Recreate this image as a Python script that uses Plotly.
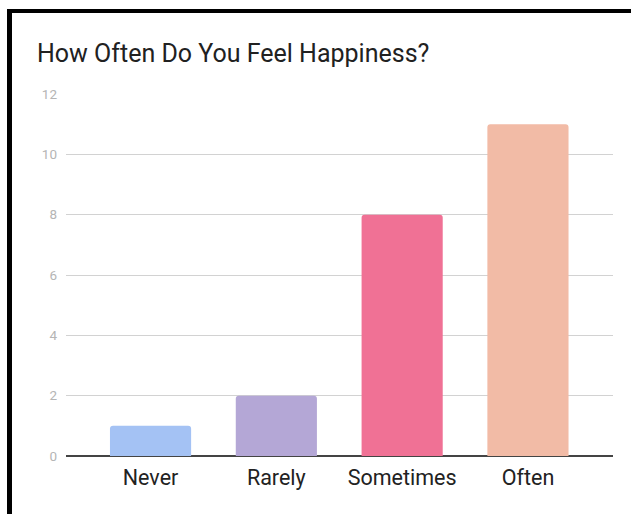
import plotly.graph_objects as go

# Survey answers and their counts
categories = ["Never", "Rarely", "Sometimes", "Often"]
counts = [1, 2, 8, 11]
bar_colors = ["#a4c2f4", "#b4a7d6", "#f07195", "#f2bba6"]
y_ticks = [0, 2, 4, 6, 8, 10, 12]

W, H = 631, 514
L, R, T, B = 66, 18, 94, 58
plot_w = W - L - R
plot_h = H - T - B


def px_x(px):
    return (px - L) / plot_w


def px_y(py):
    return (H - B - py) / plot_h


fig = go.Figure(
    go.Bar(
        x=list(range(len(categories))),
        y=counts,
        marker=dict(color=bar_colors, line=dict(width=0), cornerradius=3),
        width=0.645,
        customdata=categories,
        hovertemplate="%{customdata}: %{y}<extra></extra>",
    )
)

# Black frame along the top and left edges
frame = [
    dict(x0=px_x(7), x1=px_x(640), y0=px_y(13), y1=px_y(9)),
    dict(x0=px_x(7), x1=px_x(12), y0=px_y(530), y1=px_y(9)),
]
shapes = [
    dict(type="rect", xref="paper", yref="paper", fillcolor="#000000",
         line=dict(width=0), layer="above", **f)
    for f in frame
]

fig.update_layout(
    width=W,
    height=H,
    margin=dict(l=L, r=R, t=T, b=B, pad=0),
    paper_bgcolor="#ffffff",
    plot_bgcolor="#ffffff",
    font=dict(family="Roboto", color="#222222"),
    title=dict(
        text="How Often Do You Feel Happiness?",
        x=37 / W,
        xanchor="left",
        y=1 - 53 / H,
        yanchor="middle",
        font=dict(family="Roboto", size=25, color="#212121"),
    ),
    xaxis=dict(
        range=[-0.672, len(categories) - 1 + 0.676],
        tickvals=list(range(len(categories))),
        ticktext=categories,
        showgrid=False,
        showline=False,
        zeroline=False,
        ticks="",
        ticklabelstandoff=6,
        tickfont=dict(size=21.5, color="#222222"),
        fixedrange=True,
    ),
    yaxis=dict(
        range=[0, 12],
        tickvals=y_ticks,
        showgrid=True,
        gridcolor="#d2d2d2",
        gridwidth=1,
        zeroline=True,
        zerolinecolor="#444444",
        zerolinewidth=1.5,
        showline=False,
        ticks="",
        ticklabelstandoff=8,
        tickfont=dict(size=13.5, color="#b5b5b5"),
        fixedrange=True,
    ),
    showlegend=False,
    shapes=shapes,
)

fig.write_html("out.html")
